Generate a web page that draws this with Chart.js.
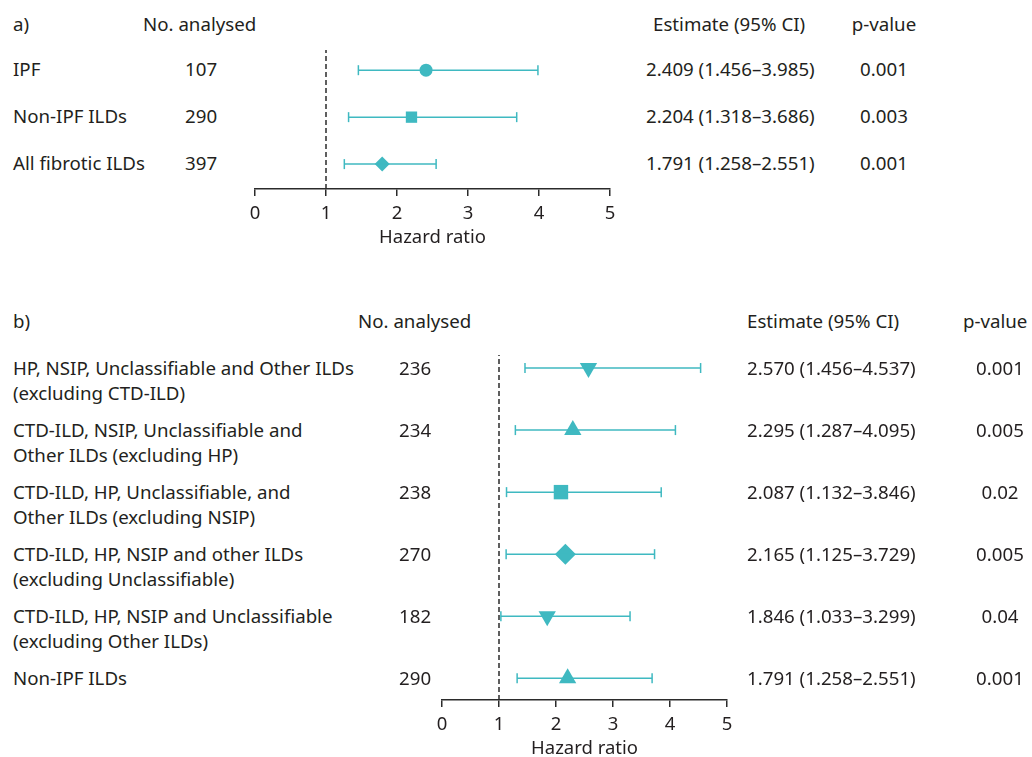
<!DOCTYPE html>
<html>
<head>
<meta charset="utf-8">
<script src="https://cdn.jsdelivr.net/npm/chart.js@4.4.1/dist/chart.umd.min.js"></script>
<style>
    body { margin: 0; background: #fff; width: 1032px; height: 757px; overflow: hidden; position: relative; }
    .txt { position: absolute; font-family: "Noto Sans", Lato, sans-serif; font-size: 18.7px; line-height: 22px; color: #231f20; white-space: nowrap; }
    .c { transform: translateX(-50%); }
    canvas { position: absolute; }
</style>
</head>
<body>
<canvas id="chartA" width="395" height="203" style="left:235px; top:50px;"></canvas>
<canvas id="chartB" width="325" height="409" style="left:422px; top:355px;"></canvas>

<script>
// panel a)
const aGroups = ["IPF", "Non-IPF ILDs", "All fibrotic ILDs"];
const aCounts = [107, 290, 397];
const aEstText = ["2.409 (1.456–3.985)", "2.204 (1.318–3.686)", "1.791 (1.258–2.551)"];
const aPText = ["0.001", "0.003", "0.001"];
const aEst = [2.409, 2.204, 1.791];
const aLow = [1.456, 1.318, 1.258];
const aHigh = [3.985, 3.686, 2.551];
const aMarkers = ["circle", "rect", "rectRot"];

// panel b)
const bGroups = [
    ["HP, NSIP, Unclassifiable and Other ILDs", "(excluding CTD-ILD)"],
    ["CTD-ILD, NSIP, Unclassifiable and", "Other ILDs (excluding HP)"],
    ["CTD-ILD, HP, Unclassifiable, and", "Other ILDs (excluding NSIP)"],
    ["CTD-ILD, HP, NSIP and other ILDs", "(excluding Unclassifiable)"],
    ["CTD-ILD, HP, NSIP and Unclassifiable", "(excluding Other ILDs)"],
    ["Non-IPF ILDs"]
];
const bCounts = [236, 234, 238, 270, 182, 290];
const bEstText = ["2.570 (1.456–4.537)", "2.295 (1.287–4.095)", "2.087 (1.132–3.846)",
    "2.165 (1.125–3.729)", "1.846 (1.033–3.299)", "1.791 (1.258–2.551)"];
const bPText = ["0.001", "0.005", "0.02", "0.005", "0.04", "0.001"];
// last row is drawn at the non-IPF estimate in the figure
const bEst = [2.570, 2.295, 2.087, 2.165, 1.846, 2.204];
const bLow = [1.456, 1.287, 1.132, 1.125, 1.033, 1.318];
const bHigh = [4.537, 4.095, 3.846, 3.729, 3.299, 3.686];
const bMarkers = ["triangleDown", "triangle", "rect", "rectRot", "triangleDown", "triangle"];

const xTicks = [0, 1, 2, 3, 4, 5];

const TEAL = "#3fb9c1";
const INK = "#2b2b2b";

Chart.defaults.font.family = "'Noto Sans', Lato, sans-serif";
Chart.defaults.color = "#231f20";

function addText(str, x, y, center) {
    const el = document.createElement("div");
    el.className = "txt" + (center ? " c" : "");
    el.textContent = str;
    el.style.left = x + "px";
    el.style.top = (y - 12) + "px";
    document.body.appendChild(el);
}

function ForestPlot(canvasId, est, low, high, markers, sizes, yRange) {
    this.canvasId = canvasId;
    this.est = est;
    this.low = low;
    this.high = high;
    this.markers = markers;
    this.sizes = sizes;
    this.yRange = yRange;
    this.chart = null;
    return this;
}

ForestPlot.prototype.buildDatasets = function () {
    const n = this.est.length;
    const datasets = [];

    // reference line at HR = 1
    datasets.push({
        data: [{ x: 1, y: this.yRange[0] }, { x: 1, y: this.yRange[1] }],
        showLine: true,
        borderColor: INK,
        borderWidth: 1.5,
        borderDash: [5, 3],
        pointRadius: 0
    });

    // confidence intervals with end caps
    for (let i = 0; i < n; i++) {
        const y = n - i;
        datasets.push({
            data: [{ x: this.low[i], y: y }, { x: this.high[i], y: y }],
            showLine: true,
            borderColor: TEAL,
            borderWidth: 1.5,
            pointStyle: "line",
            pointRotation: 90,
            pointRadius: 5,
            pointBorderColor: TEAL,
            pointBorderWidth: 1.5
        });
    }

    // point estimates
    datasets.push({
        data: this.est.map((v, i) => ({ x: v, y: n - i })),
        backgroundColor: TEAL,
        borderColor: TEAL,
        borderWidth: 0,
        pointStyle: this.markers.map(m => m === "triangleDown" ? "triangle" : m),
        rotation: this.markers.map(m => m === "triangleDown" ? 180 : 0),
        pointRadius: this.markers.map((m, i) => this.sizes[m])
    });
    return datasets;
}

ForestPlot.prototype.render = function () {
    const options = {
        responsive: false,
        animation: false,
        devicePixelRatio: 1,
        layout: { autoPadding: false, padding: { left: 20, right: 20, top: 0, bottom: 0 } },
        plugins: { legend: { display: false }, tooltip: { enabled: false } },
        scales: {
            x: {
                type: "linear",
                min: 0,
                max: 5,
                afterBuildTicks: (scale) => { scale.ticks = xTicks.map(v => ({ value: v })); },
                afterFit: (scale) => {
                    scale.height = 64;
                    scale.paddingLeft = 0;
                    scale.paddingRight = 0;
                },
                grid: { drawOnChartArea: false, drawTicks: true, tickLength: 7, color: INK, lineWidth: 1.5 },
                border: { display: true, color: INK, width: 1.5 },
                ticks: { font: { size: 18.5 }, padding: 7, color: "#231f20" },
                title: { display: true, text: "Hazard ratio", font: { size: 18.5 }, padding: { top: 7 }, color: "#231f20" }
            },
            y: { type: "linear", display: false, min: this.yRange[0], max: this.yRange[1] }
        }
    };
    this.chart = new Chart(document.querySelector("#" + this.canvasId), {
        type: "scatter",
        data: { datasets: this.buildDatasets() },
        options: options
    });
}

// table text, panel a)
addText("a)", 13, 25);
addText("No. analysed", 143, 25);
addText("Estimate (95% CI)", 653, 25);
addText("p-value", 884, 25, true);
const aRowY = [70, 117, 164];
aGroups.forEach((g, i) => {
    addText(g, 13, aRowY[i]);
    addText(String(aCounts[i]), 185, aRowY[i]);
    addText(aEstText[i], 646, aRowY[i]);
    addText(aPText[i], 884, aRowY[i], true);
});

// table text, panel b)
addText("b)", 13, 322);
addText("No. analysed", 358, 322);
addText("Estimate (95% CI)", 747, 322);
addText("p-value", 963, 322);
const bRowY = [369, 431, 493, 555, 617, 679];
bGroups.forEach((lines, i) => {
    lines.forEach((l, j) => addText(l, 13, bRowY[i] + j * 25));
    addText(String(bCounts[i]), 399, bRowY[i]);
    addText(bEstText[i], 747, bRowY[i]);
    addText(bPText[i], 1000, bRowY[i], true);
});

const plotA = new ForestPlot("chartA", aEst, aLow, aHigh, aMarkers,
    { circle: 6.5, rect: 8, rectRot: 7.5 }, [0.47, 3.43]);
const plotB = new ForestPlot("chartB", bEst, bLow, bHigh, bMarkers,
    { triangle: 10, triangleDown: 10, rect: 10.2, rectRot: 10.5 }, [0.65, 6.21]);
plotA.render();
plotB.render();
</script>
</body>
</html>
